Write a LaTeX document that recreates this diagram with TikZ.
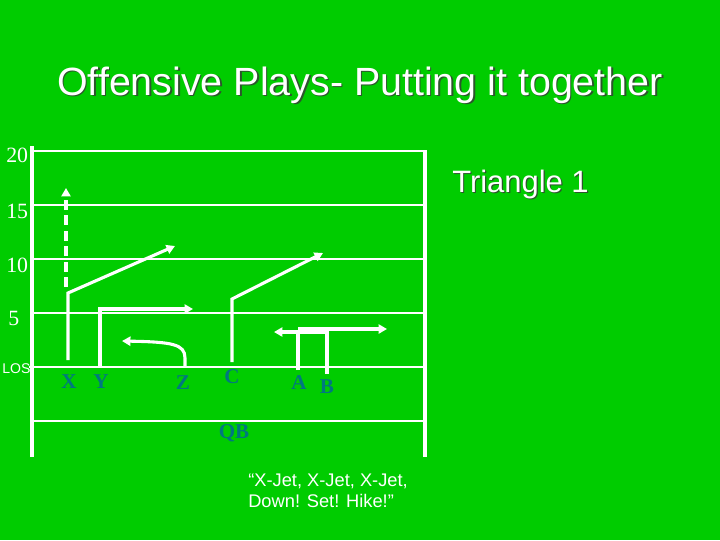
\documentclass[tikz,border=0pt]{standalone}
\usepackage{fontspec}
\setmainfont{Liberation Serif}
\setsansfont{Liberation Sans}
\usetikzlibrary{arrows.meta}
\definecolor{field}{RGB}{0,204,0}
\definecolor{player}{RGB}{0,120,128}
\definecolor{titleshade}{RGB}{45,85,45}
\tikzstyle{yardline}=[white, line width=0.75pt]
\tikzstyle{sideline}=[white, line width=2.6pt]
\tikzstyle{route}=[white, line width=2.2pt]
\tikzstyle{routetip}=[-{Triangle[length=6pt,width=6.5pt]}]
\tikzstyle{yardnum}=[text=white, inner sep=0pt, anchor=base west, font=\fontsize{15.5}{16}\selectfont]
\tikzstyle{playerlabel}=[text=player, inner sep=0pt, font=\bfseries\fontsize{15}{16}\selectfont]

\begin{document}
\begin{tikzpicture}[x=0.025cm, y=-0.025cm]
    \fill[field] (0,0) rectangle (720,540);
    \useasboundingbox (0,0) rectangle (720,540);

    % title
    \node[text=titleshade, inner sep=0pt, anchor=base, font=\sffamily\fontsize{28}{30}\selectfont]
        (titleshadow) at (361.5,96.5) {Offensive Plays- Putting it together};
    \node[text=white, inner sep=0pt, anchor=base, font=\sffamily\fontsize{28}{30}\selectfont]
        (title) at (360,95) {Offensive Plays- Putting it together};
    \node[text=titleshade, inner sep=0pt, anchor=base west, font=\sffamily\fontsize{22}{24}\selectfont]
        (playnameshadow) at (453.2,193.2) {Triangle 1};
    \node[text=white, inner sep=0pt, anchor=base west, font=\sffamily\fontsize{22}{24}\selectfont]
        (playname) at (452,192) {Triangle 1};

    % field
    \draw[yardline] (33,151) -- (423,151);
    \draw[yardline] (33,205) -- (423,205);
    \draw[yardline] (33,259) -- (423,259);
    \draw[yardline] (33,313) -- (423,313);
    \draw[yardline] (29,367) -- (423,367);
    \draw[yardline] (33,421) -- (427,421);
    \draw[sideline] (32,146) -- (32,457);
    \draw[sideline] (425,150) -- (425,457);

    \node[yardnum] (y20) at (6,162) {20};
    \node[yardnum] (y15) at (6,218) {15};
    \node[yardnum] (y10) at (6,272) {10};
    \node[yardnum] (y5) at (8,325) {5};
    \node[text=white, inner sep=0pt, anchor=base west, font=\sffamily\fontsize{10}{11}\selectfont]
        (los) at (2,373) {LOS};

    % players
    \node[playerlabel] (X) at (69,382) {X};
    \node[playerlabel] (Y) at (101,382) {Y};
    \node[playerlabel] (Z) at (183,383) {Z};
    \node[playerlabel] (C) at (232,377) {C};
    \node[playerlabel] (A) at (299,383) {A};
    \node[playerlabel] (B) at (327,387) {B};
    \node[playerlabel] (QB) at (234,433) {QB};

    % routes
    \draw[route, routetip] (68,360) -- (68,293) -- (175,246);
    \draw[route, routetip, dash pattern=on 7pt off 4pt] (66,287) -- (66,188);
    \draw[route, routetip] (100,367) -- (100,309) -- (193,309);
    \draw[route, routetip] (185,367) -- (185,358) .. controls (185,344) and (172,342) .. (122,341);
    \draw[route, routetip] (232,362) -- (232,299) -- (323,253);
    \draw[route] (298,370) -- (298,331);
    \draw[route, routetip] (327,332) -- (274,332);
    \draw[route] (327,374) -- (327,330);
    \draw[route, routetip] (298,329) -- (387,329);

    % cadence
    \node[text=white, inner sep=0pt, anchor=north west, align=left,
          font=\sffamily\fontsize{13}{15}\selectfont]
        (cadence) at (248,474) {``X-Jet, X-Jet, X-Jet,\\Down! Set! Hike!''};
\end{tikzpicture}
\end{document}
